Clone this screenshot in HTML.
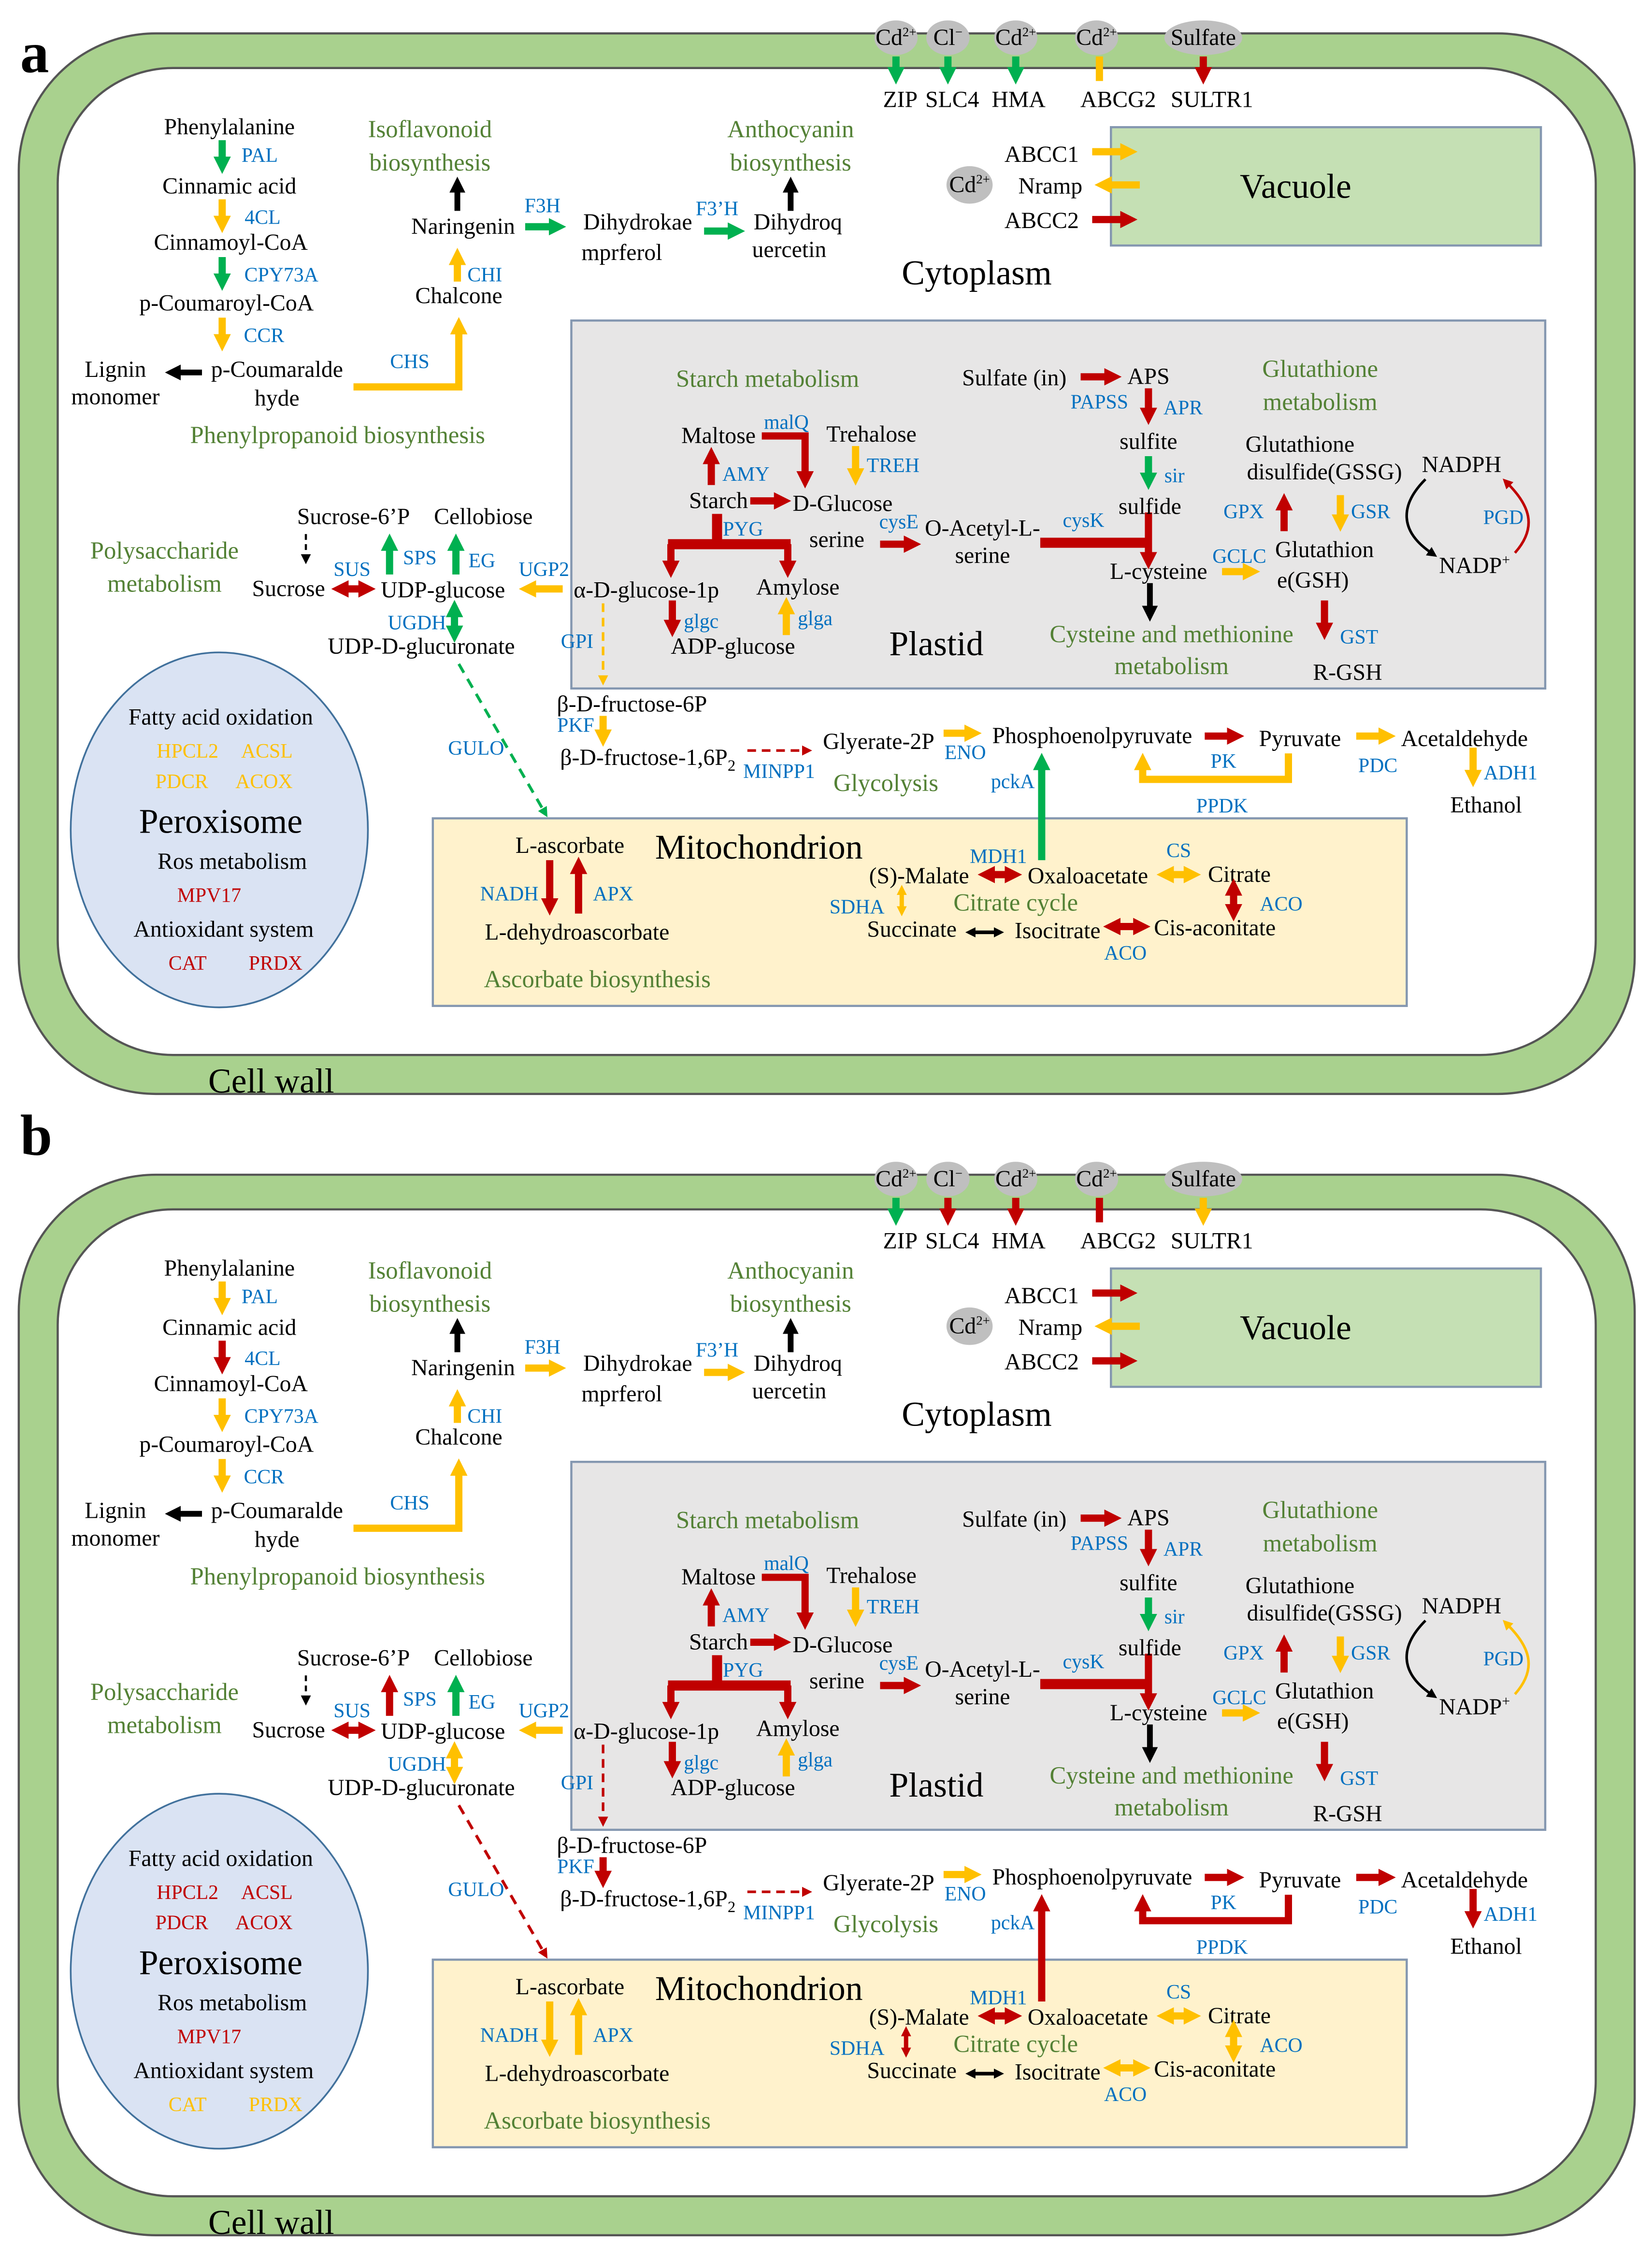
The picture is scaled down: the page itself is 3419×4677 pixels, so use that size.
<!DOCTYPE html>
<html><head><meta charset="utf-8">
<style>
html,body{margin:0;padding:0;background:#fff;}
svg{display:block;}
text{font-family:"Liberation Serif",serif;fill:#000;}
.t{font-size:16px;text-anchor:middle;}
.g{font-size:14px;fill:#0070c0;text-anchor:middle;}
.gn{font-size:17px;fill:#538135;text-anchor:middle;}
.L{font-size:24px;text-anchor:middle;}
.r{stroke:#c00000;stroke-width:5;fill:none;}
.y{stroke:#ffc000;stroke-width:5;fill:none;}
.n{stroke:#00b050;stroke-width:5;fill:none;}
.k{stroke:#000;stroke-width:4;fill:none;}
.gy{font-size:14px;fill:#ffc000;text-anchor:middle;}
.gr{font-size:14px;fill:#c00000;text-anchor:middle;}
</style></head><body>
<svg width="3419" height="4677" viewBox="0 0 1145 1566" xmlns="http://www.w3.org/2000/svg">
<defs>
<marker id="R" viewBox="0 0 10 10" refX="3" refY="5" markerWidth="12" markerHeight="12" markerUnits="userSpaceOnUse" orient="auto-start-reverse"><path d="M0,0L10,5L0,10z" fill="#c00000"/></marker>
<marker id="Y" viewBox="0 0 10 10" refX="3" refY="5" markerWidth="12" markerHeight="12" markerUnits="userSpaceOnUse" orient="auto-start-reverse"><path d="M0,0L10,5L0,10z" fill="#ffc000"/></marker>
<marker id="G" viewBox="0 0 10 10" refX="3" refY="5" markerWidth="12" markerHeight="12" markerUnits="userSpaceOnUse" orient="auto-start-reverse"><path d="M0,0L10,5L0,10z" fill="#00b050"/></marker>
<marker id="K" viewBox="0 0 10 10" refX="3" refY="5" markerWidth="11" markerHeight="11" markerUnits="userSpaceOnUse" orient="auto-start-reverse"><path d="M0,0L10,5L0,10z" fill="#000"/></marker>
<marker id="Rs" viewBox="0 0 10 10" refX="3" refY="5" markerWidth="7" markerHeight="7" markerUnits="userSpaceOnUse" orient="auto-start-reverse"><path d="M0,0L10,5L0,10z" fill="#c00000"/></marker>
<marker id="Ys" viewBox="0 0 10 10" refX="3" refY="5" markerWidth="7" markerHeight="7" markerUnits="userSpaceOnUse" orient="auto-start-reverse"><path d="M0,0L10,5L0,10z" fill="#ffc000"/></marker>
<marker id="Gs" viewBox="0 0 10 10" refX="3" refY="5" markerWidth="7" markerHeight="7" markerUnits="userSpaceOnUse" orient="auto-start-reverse"><path d="M0,0L10,5L0,10z" fill="#00b050"/></marker>
<marker id="Ks" viewBox="0 0 10 10" refX="3" refY="5" markerWidth="7" markerHeight="7" markerUnits="userSpaceOnUse" orient="auto-start-reverse"><path d="M0,0L10,5L0,10z" fill="#000"/></marker>
</defs>
<rect width="1145" height="1566" fill="#fff"/>

<!-- ================= PANEL A ================= -->
<g>
<rect x="13" y="23" width="1120" height="735" rx="95" fill="#a9d18e" stroke="#555" stroke-width="1.5"/>
<rect x="40" y="47" width="1066" height="684" rx="80" fill="#fff" stroke="#555" stroke-width="1.5"/>
<text x="14" y="50" font-size="40" font-weight="bold">a</text>
<text x="188" y="757" class="L">Cell wall</text>

<ellipse cx="621" cy="26" rx="15" ry="12" fill="#bfbfbf"/><text x="621" y="31" class="t" font-size="14">Cd<tspan font-size="9" dy="-6">2+</tspan></text>
<ellipse cx="657" cy="26" rx="15" ry="12" fill="#bfbfbf"/><text x="657" y="31" class="t" font-size="14">Cl<tspan font-size="9" dy="-6">−</tspan></text>
<ellipse cx="704" cy="26" rx="15" ry="12" fill="#bfbfbf"/><text x="704" y="31" class="t" font-size="14">Cd<tspan font-size="9" dy="-6">2+</tspan></text>
<ellipse cx="760" cy="26" rx="15" ry="12" fill="#bfbfbf"/><text x="760" y="31" class="t" font-size="14">Cd<tspan font-size="9" dy="-6">2+</tspan></text>
<ellipse cx="834" cy="26" rx="27" ry="12" fill="#bfbfbf"/><text x="834" y="31" class="t" font-size="15">Sulfate</text>
<line x1="621" y1="39" x2="621" y2="50" class="n" marker-end="url(#G)"/>
<line x1="657" y1="39" x2="657" y2="50" class="n" marker-end="url(#G)"/>
<line x1="704" y1="39" x2="704" y2="50" class="n" marker-end="url(#G)"/>
<line x1="762" y1="39" x2="762" y2="56" class="y"/>
<line x1="834" y1="39" x2="834" y2="50" class="r" marker-end="url(#R)"/>
<text x="624" y="74" class="t">ZIP</text><text x="660" y="74" class="t">SLC4</text><text x="706" y="74" class="t">HMA</text><text x="775" y="74" class="t">ABCG2</text><text x="840" y="74" class="t">SULTR1</text>

<rect x="770" y="88" width="298" height="82" fill="#c5e0b4" stroke="#8497b0" stroke-width="1.5"/>
<text x="898" y="137" class="L">Vacuole</text>
<text x="722" y="112" class="t">ABCC1</text><text x="728" y="134" class="t">Nramp</text><text x="722" y="158" class="t">ABCC2</text>
<line x1="757" y1="105" x2="780" y2="105" class="y" marker-end="url(#Y)"/>
<line x1="790" y1="128" x2="767" y2="128" class="y" marker-end="url(#Y)"/>
<line x1="757" y1="152" x2="780" y2="152" class="r" marker-end="url(#R)"/>
<ellipse cx="672" cy="128" rx="16" ry="13" fill="#bfbfbf"/><text x="672" y="133" class="t" font-size="14">Cd<tspan font-size="9" dy="-6">2+</tspan></text>
<text x="677" y="197" class="L">Cytoplasm</text>

<text x="159" y="93" class="t">Phenylalanine</text>
<line x1="154" y1="97" x2="154" y2="112" class="n" marker-end="url(#G)"/><text x="180" y="112" class="g">PAL</text>
<text x="159" y="134" class="t">Cinnamic acid</text>
<line x1="154" y1="138" x2="154" y2="153" class="y" marker-end="url(#Y)"/><text x="182" y="155" class="g">4CL</text>
<text x="160" y="173" class="t">Cinnamoyl-CoA</text>
<line x1="154" y1="178" x2="154" y2="193" class="n" marker-end="url(#G)"/><text x="195" y="195" class="g">CPY73A</text>
<text x="157" y="215" class="t">p-Coumaroyl-CoA</text>
<line x1="154" y1="220" x2="154" y2="235" class="y" marker-end="url(#Y)"/><text x="183" y="237" class="g">CCR</text>
<text x="192" y="261" class="t">p-Coumaralde</text><text x="192" y="281" class="t">hyde</text>
<text x="80" y="261" class="t">Lignin</text><text x="80" y="280" class="t">monomer</text>
<line x1="140" y1="258" x2="122" y2="258" class="k" marker-end="url(#K)"/>
<text x="284" y="255" class="g">CHS</text>
<path d="M245,268 H318 V228" class="y" marker-end="url(#Y)"/>
<text x="318" y="210" class="t">Chalcone</text>
<line x1="317" y1="195" x2="317" y2="180" class="y" marker-end="url(#Y)"/><text x="336" y="195" class="g">CHI</text>
<text x="321" y="162" class="t">Naringenin</text>
<line x1="317" y1="146" x2="317" y2="130" class="k" marker-end="url(#K)"/>
<text x="298" y="95" class="gn">Isoflavonoid</text><text x="298" y="118" class="gn">biosynthesis</text>
<text x="376" y="147" class="g">F3H</text>
<line x1="364" y1="157" x2="384" y2="157" class="n" marker-end="url(#G)"/>
<text x="442" y="159" class="t">Dihydrokae</text><text x="431" y="180" class="t">mprferol</text>
<text x="497" y="149" class="g">F3’H</text>
<line x1="488" y1="160" x2="508" y2="160" class="n" marker-end="url(#G)"/>
<text x="553" y="159" class="t">Dihydroq</text><text x="547" y="178" class="t">uercetin</text>
<line x1="548" y1="146" x2="548" y2="130" class="k" marker-end="url(#K)"/>
<text x="548" y="95" class="gn">Anthocyanin</text><text x="548" y="118" class="gn">biosynthesis</text>
<text x="234" y="307" class="gn">Phenylpropanoid biosynthesis</text>

<rect x="396" y="222" width="675" height="255" fill="#e7e6e6" stroke="#8497b0" stroke-width="1.5"/>
<rect x="300" y="567" width="675" height="130" fill="#fff2cc" stroke="#8497b0" stroke-width="1.5"/>
<ellipse cx="152" cy="575" rx="103" ry="123" fill="#dae3f3" stroke="#41719c" stroke-width="1.2"/>

<text x="114" y="387" class="gn">Polysaccharide</text><text x="114" y="410" class="gn">metabolism</text>
<text x="245" y="363" class="t">Sucrose-6’P</text><text x="335" y="363" class="t">Cellobiose</text>
<line x1="212" y1="370" x2="212" y2="386" stroke="#000" stroke-width="1.5" stroke-dasharray="4,3" marker-end="url(#Ks)"/>
<text x="200" y="413" class="t">Sucrose</text>
<line x1="238" y1="408" x2="252" y2="408" class="r" marker-start="url(#R)" marker-end="url(#R)"/>
<text x="244" y="399" class="g">SUS</text>
<text x="307" y="414" class="t">UDP-glucose</text>
<line x1="270" y1="398" x2="270" y2="378" class="n" marker-end="url(#G)"/><text x="291" y="391" class="g">SPS</text>
<line x1="316" y1="398" x2="316" y2="378" class="n" marker-end="url(#G)"/><text x="334" y="393" class="g">EG</text>
<text x="377" y="399" class="g">UGP2</text>
<line x1="390" y1="408" x2="368" y2="408" class="y" marker-end="url(#Y)"/>
<text x="448" y="414" class="t">α-D-glucose-1p</text>
<text x="289" y="436" class="g">UGDH</text>
<line x1="315" y1="424" x2="315" y2="437" class="n" marker-start="url(#G)" marker-end="url(#G)"/>
<text x="292" y="453" class="t">UDP-D-glucuronate</text>
<text x="400" y="449" class="g">GPI</text>
<line x1="418" y1="418" x2="418" y2="470" stroke="#ffc000" stroke-width="1.8" stroke-dasharray="6,4" marker-end="url(#Ys)"/>
<line x1="318" y1="460" x2="377" y2="562" stroke="#00b050" stroke-width="2" stroke-dasharray="7,5" marker-end="url(#Gs)"/>
<text x="330" y="523" class="g">GULO</text>
<text x="438" y="493" class="t">β-D-fructose-6P</text>
<text x="399" y="507" class="g">PKF</text>
<line x1="418" y1="496" x2="418" y2="509" class="y" marker-end="url(#Y)"/>
<text x="449" y="530" class="t">β-D-fructose-1,6P<tspan font-size="11" dy="4">2</tspan></text>
<line x1="518" y1="520" x2="558" y2="520" stroke="#c00000" stroke-width="1.8" stroke-dasharray="6,4" marker-end="url(#Rs)"/>
<text x="540" y="539" class="g">MINPP1</text>
<text x="609" y="519" class="t">Glyerate-2P</text>
<line x1="654" y1="508" x2="672" y2="508" class="y" marker-end="url(#Y)"/>
<text x="669" y="526" class="g">ENO</text>
<text x="757" y="515" class="t">Phosphoenolpyruvate</text>
<line x1="835" y1="510" x2="854" y2="510" class="r" marker-end="url(#R)"/>
<text x="848" y="532" class="g">PK</text>
<text x="901" y="517" class="t">Pyruvate</text>
<line x1="940" y1="510" x2="959" y2="510" class="y" marker-end="url(#Y)"/>
<text x="1015" y="517" class="t">Acetaldehyde</text>
<text x="955" y="535" class="g">PDC</text>
<line x1="1021" y1="518" x2="1021" y2="537" class="y" marker-end="url(#Y)"/>
<text x="1047" y="540" class="g">ADH1</text>
<text x="1030" y="563" class="t">Ethanol</text>
<path d="M893,522 V540 H792 V530" class="y" marker-end="url(#Y)"/>
<text x="847" y="563" class="g">PPDK</text>
<text x="614" y="548" class="gn">Glycolysis</text>
<text x="702" y="546" class="g">pckA</text>
<line x1="722" y1="596" x2="722" y2="530" class="n" marker-end="url(#G)"/>

<text x="532" y="268" class="gn">Starch metabolism</text>
<text x="498" y="307" class="t">Maltose</text><text x="545" y="297" class="g">malQ</text>
<text x="604" y="306" class="t">Trehalose</text>
<path d="M528,302 H558 V330" class="r" marker-end="url(#R)"/>
<line x1="593" y1="309" x2="593" y2="328" class="y" marker-end="url(#Y)"/><text x="619" y="327" class="g">TREH</text>
<line x1="493" y1="336" x2="493" y2="318" class="r" marker-end="url(#R)"/><text x="517" y="333" class="g">AMY</text>
<text x="498" y="352" class="t">Starch</text>
<line x1="520" y1="347" x2="540" y2="347" class="r" marker-end="url(#R)"/>
<text x="584" y="354" class="t">D-Glucose</text>
<text x="515" y="371" class="g">PYG</text>
<path d="M497,356 V377 M463,377 H548" stroke="#c00000" stroke-width="7" fill="none"/>
<line x1="465" y1="377" x2="465" y2="392" class="r" marker-end="url(#R)"/>
<line x1="546" y1="377" x2="546" y2="392" class="r" marker-end="url(#R)"/>
<text x="553" y="412" class="t">Amylose</text>
<line x1="466" y1="416" x2="466" y2="433" class="r" marker-end="url(#R)"/><text x="486" y="435" class="g">glgc</text>
<line x1="545" y1="440" x2="545" y2="422" class="y" marker-end="url(#Y)"/><text x="565" y="433" class="g">glga</text>
<text x="508" y="453" class="t">ADP-glucose</text>
<text x="580" y="379" class="t">serine</text>
<text x="623" y="366" class="g">cysE</text>
<line x1="610" y1="377" x2="630" y2="377" class="r" marker-end="url(#R)"/>
<text x="681" y="371" class="t">O-Acetyl-L-</text><text x="681" y="390" class="t">serine</text>
<text x="751" y="365" class="g">cysK</text>
<path d="M721,376 H795" stroke="#c00000" stroke-width="7" fill="none"/>
<line x1="796" y1="355" x2="796" y2="386" class="r" marker-end="url(#R)"/>
<text x="703" y="267" class="t">Sulfate (in)</text>
<line x1="749" y1="261" x2="769" y2="261" class="r" marker-end="url(#R)"/>
<text x="796" y="266" class="t">APS</text>
<text x="762" y="283" class="g">PAPSS</text>
<line x1="796" y1="269" x2="796" y2="286" class="r" marker-end="url(#R)"/><text x="820" y="287" class="g">APR</text>
<text x="796" y="311" class="t">sulfite</text>
<line x1="796" y1="316" x2="796" y2="331" class="n" marker-end="url(#G)"/><text x="814" y="334" class="g">sir</text>
<text x="797" y="356" class="t">sulfide</text>
<text x="803" y="401" class="t">L-cysteine</text>
<line x1="797" y1="404" x2="797" y2="423" class="k" marker-end="url(#K)"/>
<line x1="847" y1="396" x2="865" y2="396" class="y" marker-end="url(#Y)"/><text x="859" y="390" class="g">GCLC</text>
<text x="918" y="386" class="t">Glutathion</text><text x="910" y="407" class="t">e(GSH)</text>
<text x="862" y="359" class="g">GPX</text>
<line x1="890" y1="368" x2="890" y2="350" class="r" marker-end="url(#R)"/>
<line x1="929" y1="343" x2="929" y2="360" class="y" marker-end="url(#Y)"/><text x="950" y="359" class="g">GSR</text>
<text x="901" y="313" class="t">Glutathione</text><text x="918" y="332" class="t">disulfide(GSSG)</text>
<text x="1013" y="327" class="t">NADPH</text>
<text x="1022" y="397" class="t">NADP<tspan font-size="10" dy="-6">+</tspan></text>
<path d="M988,332 C970,350 970,368 992,383" stroke="#000" stroke-width="1.8" fill="none" marker-end="url(#Ks)"/>
<path d="M1050,383 C1066,365 1060,350 1045,335" stroke="#c00000" stroke-width="1.8" fill="none" marker-end="url(#Rs)"/>
<text x="1042" y="363" class="g">PGD</text>
<text x="915" y="261" class="gn">Glutathione</text><text x="915" y="284" class="gn">metabolism</text>
<line x1="918" y1="416" x2="918" y2="435" class="r" marker-end="url(#R)"/><text x="942" y="446" class="g">GST</text>
<text x="934" y="471" class="t">R-GSH</text>
<text x="812" y="445" class="gn">Cysteine and methionine</text><text x="812" y="467" class="gn">metabolism</text>
<text x="649" y="454" class="L">Plastid</text>

<text x="526" y="595" class="L">Mitochondrion</text>
<text x="395" y="591" class="t">L-ascorbate</text>
<text x="353" y="624" class="g">NADH</text>
<line x1="381" y1="596" x2="381" y2="626" class="r" marker-end="url(#R)"/>
<line x1="401" y1="633" x2="401" y2="602" class="r" marker-end="url(#R)"/>
<text x="425" y="624" class="g">APX</text>
<text x="400" y="651" class="t">L-dehydroascorbate</text>
<text x="414" y="684" class="gn">Ascorbate biosynthesis</text>
<text x="637" y="612" class="t">(S)-Malate</text>
<line x1="686" y1="606" x2="700" y2="606" class="r" marker-start="url(#R)" marker-end="url(#R)"/>
<text x="692" y="598" class="g">MDH1</text>
<text x="754" y="612" class="t">Oxaloacetate</text>
<line x1="810" y1="606" x2="824" y2="606" class="y" marker-start="url(#Y)" marker-end="url(#Y)"/>
<text x="817" y="594" class="g">CS</text>
<text x="859" y="611" class="t">Citrate</text>
<line x1="855" y1="617" x2="855" y2="630" class="r" marker-start="url(#R)" marker-end="url(#R)"/>
<text x="888" y="631" class="g">ACO</text>
<text x="594" y="633" class="g">SDHA</text>
<line x1="625" y1="618" x2="625" y2="630" stroke="#ffc000" stroke-width="3" marker-start="url(#Ys)" marker-end="url(#Ys)"/>
<text x="704" y="631" class="gn">Citrate cycle</text>
<text x="632" y="649" class="t">Succinate</text>
<line x1="674" y1="646" x2="691" y2="646" stroke="#000" stroke-width="2.5" marker-start="url(#Ks)" marker-end="url(#Ks)"/>
<text x="733" y="650" class="t">Isocitrate</text>
<line x1="773" y1="642" x2="789" y2="642" class="r" marker-start="url(#R)" marker-end="url(#R)"/>
<text x="842" y="648" class="t">Cis-aconitate</text>
<text x="780" y="665" class="g">ACO</text>

<text x="153" y="502" class="t">Fatty acid oxidation</text>
<text x="130" y="525" class="gy">HPCL2</text><text x="185" y="525" class="gy">ACSL</text>
<text x="126" y="546" class="gy">PDCR</text><text x="183" y="546" class="gy">ACOX</text>
<text x="153" y="577" class="L">Peroxisome</text>
<text x="161" y="602" class="t">Ros metabolism</text>
<text x="145" y="625" class="gr">MPV17</text>
<text x="155" y="649" class="t">Antioxidant system</text>
<text x="130" y="672" class="gr">CAT</text><text x="191" y="672" class="gr">PRDX</text>
</g>

<!-- ================= PANEL B ================= -->
<g transform="translate(0,791)">
<rect x="13" y="23" width="1120" height="735" rx="95" fill="#a9d18e" stroke="#555" stroke-width="1.5"/>
<rect x="40" y="47" width="1066" height="684" rx="80" fill="#fff" stroke="#555" stroke-width="1.5"/>
<text x="14" y="9" font-size="40" font-weight="bold">b</text>
<text x="188" y="757" class="L">Cell wall</text>

<ellipse cx="621" cy="26" rx="15" ry="12" fill="#bfbfbf"/><text x="621" y="31" class="t" font-size="14">Cd<tspan font-size="9" dy="-6">2+</tspan></text>
<ellipse cx="657" cy="26" rx="15" ry="12" fill="#bfbfbf"/><text x="657" y="31" class="t" font-size="14">Cl<tspan font-size="9" dy="-6">−</tspan></text>
<ellipse cx="704" cy="26" rx="15" ry="12" fill="#bfbfbf"/><text x="704" y="31" class="t" font-size="14">Cd<tspan font-size="9" dy="-6">2+</tspan></text>
<ellipse cx="760" cy="26" rx="15" ry="12" fill="#bfbfbf"/><text x="760" y="31" class="t" font-size="14">Cd<tspan font-size="9" dy="-6">2+</tspan></text>
<ellipse cx="834" cy="26" rx="27" ry="12" fill="#bfbfbf"/><text x="834" y="31" class="t" font-size="15">Sulfate</text>
<line x1="621" y1="39" x2="621" y2="50" class="n" marker-end="url(#G)"/>
<line x1="657" y1="39" x2="657" y2="50" class="r" marker-end="url(#R)"/>
<line x1="704" y1="39" x2="704" y2="50" class="r" marker-end="url(#R)"/>
<line x1="762" y1="39" x2="762" y2="56" class="r"/>
<line x1="834" y1="39" x2="834" y2="50" class="y" marker-end="url(#Y)"/>
<text x="624" y="74" class="t">ZIP</text><text x="660" y="74" class="t">SLC4</text><text x="706" y="74" class="t">HMA</text><text x="775" y="74" class="t">ABCG2</text><text x="840" y="74" class="t">SULTR1</text>

<rect x="770" y="88" width="298" height="82" fill="#c5e0b4" stroke="#8497b0" stroke-width="1.5"/>
<text x="898" y="137" class="L">Vacuole</text>
<text x="722" y="112" class="t">ABCC1</text><text x="728" y="134" class="t">Nramp</text><text x="722" y="158" class="t">ABCC2</text>
<line x1="757" y1="105" x2="780" y2="105" class="r" marker-end="url(#R)"/>
<line x1="790" y1="128" x2="767" y2="128" class="y" marker-end="url(#Y)"/>
<line x1="757" y1="152" x2="780" y2="152" class="r" marker-end="url(#R)"/>
<ellipse cx="672" cy="128" rx="16" ry="13" fill="#bfbfbf"/><text x="672" y="133" class="t" font-size="14">Cd<tspan font-size="9" dy="-6">2+</tspan></text>
<text x="677" y="197" class="L">Cytoplasm</text>

<text x="159" y="93" class="t">Phenylalanine</text>
<line x1="154" y1="97" x2="154" y2="112" class="y" marker-end="url(#Y)"/><text x="180" y="112" class="g">PAL</text>
<text x="159" y="134" class="t">Cinnamic acid</text>
<line x1="154" y1="138" x2="154" y2="153" class="r" marker-end="url(#R)"/><text x="182" y="155" class="g">4CL</text>
<text x="160" y="173" class="t">Cinnamoyl-CoA</text>
<line x1="154" y1="178" x2="154" y2="193" class="y" marker-end="url(#Y)"/><text x="195" y="195" class="g">CPY73A</text>
<text x="157" y="215" class="t">p-Coumaroyl-CoA</text>
<line x1="154" y1="220" x2="154" y2="235" class="y" marker-end="url(#Y)"/><text x="183" y="237" class="g">CCR</text>
<text x="192" y="261" class="t">p-Coumaralde</text><text x="192" y="281" class="t">hyde</text>
<text x="80" y="261" class="t">Lignin</text><text x="80" y="280" class="t">monomer</text>
<line x1="140" y1="258" x2="122" y2="258" class="k" marker-end="url(#K)"/>
<text x="284" y="255" class="g">CHS</text>
<path d="M245,268 H318 V228" class="y" marker-end="url(#Y)"/>
<text x="318" y="210" class="t">Chalcone</text>
<line x1="317" y1="195" x2="317" y2="180" class="y" marker-end="url(#Y)"/><text x="336" y="195" class="g">CHI</text>
<text x="321" y="162" class="t">Naringenin</text>
<line x1="317" y1="146" x2="317" y2="130" class="k" marker-end="url(#K)"/>
<text x="298" y="95" class="gn">Isoflavonoid</text><text x="298" y="118" class="gn">biosynthesis</text>
<text x="376" y="147" class="g">F3H</text>
<line x1="364" y1="157" x2="384" y2="157" class="y" marker-end="url(#Y)"/>
<text x="442" y="159" class="t">Dihydrokae</text><text x="431" y="180" class="t">mprferol</text>
<text x="497" y="149" class="g">F3’H</text>
<line x1="488" y1="160" x2="508" y2="160" class="y" marker-end="url(#Y)"/>
<text x="553" y="159" class="t">Dihydroq</text><text x="547" y="178" class="t">uercetin</text>
<line x1="548" y1="146" x2="548" y2="130" class="k" marker-end="url(#K)"/>
<text x="548" y="95" class="gn">Anthocyanin</text><text x="548" y="118" class="gn">biosynthesis</text>
<text x="234" y="307" class="gn">Phenylpropanoid biosynthesis</text>

<rect x="396" y="222" width="675" height="255" fill="#e7e6e6" stroke="#8497b0" stroke-width="1.5"/>
<rect x="300" y="567" width="675" height="130" fill="#fff2cc" stroke="#8497b0" stroke-width="1.5"/>
<ellipse cx="152" cy="575" rx="103" ry="123" fill="#dae3f3" stroke="#41719c" stroke-width="1.2"/>

<text x="114" y="387" class="gn">Polysaccharide</text><text x="114" y="410" class="gn">metabolism</text>
<text x="245" y="363" class="t">Sucrose-6’P</text><text x="335" y="363" class="t">Cellobiose</text>
<line x1="212" y1="370" x2="212" y2="386" stroke="#000" stroke-width="1.5" stroke-dasharray="4,3" marker-end="url(#Ks)"/>
<text x="200" y="413" class="t">Sucrose</text>
<line x1="238" y1="408" x2="252" y2="408" class="r" marker-start="url(#R)" marker-end="url(#R)"/>
<text x="244" y="399" class="g">SUS</text>
<text x="307" y="414" class="t">UDP-glucose</text>
<line x1="270" y1="398" x2="270" y2="378" class="r" marker-end="url(#R)"/><text x="291" y="391" class="g">SPS</text>
<line x1="316" y1="398" x2="316" y2="378" class="n" marker-end="url(#G)"/><text x="334" y="393" class="g">EG</text>
<text x="377" y="399" class="g">UGP2</text>
<line x1="390" y1="408" x2="368" y2="408" class="y" marker-end="url(#Y)"/>
<text x="448" y="414" class="t">α-D-glucose-1p</text>
<text x="289" y="436" class="g">UGDH</text>
<line x1="315" y1="424" x2="315" y2="437" class="y" marker-start="url(#Y)" marker-end="url(#Y)"/>
<text x="292" y="453" class="t">UDP-D-glucuronate</text>
<text x="400" y="449" class="g">GPI</text>
<line x1="418" y1="418" x2="418" y2="470" stroke="#c00000" stroke-width="1.8" stroke-dasharray="6,4" marker-end="url(#Rs)"/>
<line x1="318" y1="460" x2="377" y2="562" stroke="#c00000" stroke-width="2" stroke-dasharray="7,5" marker-end="url(#Rs)"/>
<text x="330" y="523" class="g">GULO</text>
<text x="438" y="493" class="t">β-D-fructose-6P</text>
<text x="399" y="507" class="g">PKF</text>
<line x1="418" y1="496" x2="418" y2="509" class="r" marker-end="url(#R)"/>
<text x="449" y="530" class="t">β-D-fructose-1,6P<tspan font-size="11" dy="4">2</tspan></text>
<line x1="518" y1="520" x2="558" y2="520" stroke="#c00000" stroke-width="1.8" stroke-dasharray="6,4" marker-end="url(#Rs)"/>
<text x="540" y="539" class="g">MINPP1</text>
<text x="609" y="519" class="t">Glyerate-2P</text>
<line x1="654" y1="508" x2="672" y2="508" class="y" marker-end="url(#Y)"/>
<text x="669" y="526" class="g">ENO</text>
<text x="757" y="515" class="t">Phosphoenolpyruvate</text>
<line x1="835" y1="510" x2="854" y2="510" class="r" marker-end="url(#R)"/>
<text x="848" y="532" class="g">PK</text>
<text x="901" y="517" class="t">Pyruvate</text>
<line x1="940" y1="510" x2="959" y2="510" class="r" marker-end="url(#R)"/>
<text x="1015" y="517" class="t">Acetaldehyde</text>
<text x="955" y="535" class="g">PDC</text>
<line x1="1021" y1="518" x2="1021" y2="537" class="r" marker-end="url(#R)"/>
<text x="1047" y="540" class="g">ADH1</text>
<text x="1030" y="563" class="t">Ethanol</text>
<path d="M893,522 V540 H792 V530" class="r" marker-end="url(#R)"/>
<text x="847" y="563" class="g">PPDK</text>
<text x="614" y="548" class="gn">Glycolysis</text>
<text x="702" y="546" class="g">pckA</text>
<line x1="722" y1="596" x2="722" y2="530" class="r" marker-end="url(#R)"/>

<text x="532" y="268" class="gn">Starch metabolism</text>
<text x="498" y="307" class="t">Maltose</text><text x="545" y="297" class="g">malQ</text>
<text x="604" y="306" class="t">Trehalose</text>
<path d="M528,302 H558 V330" class="r" marker-end="url(#R)"/>
<line x1="593" y1="309" x2="593" y2="328" class="y" marker-end="url(#Y)"/><text x="619" y="327" class="g">TREH</text>
<line x1="493" y1="336" x2="493" y2="318" class="r" marker-end="url(#R)"/><text x="517" y="333" class="g">AMY</text>
<text x="498" y="352" class="t">Starch</text>
<line x1="520" y1="347" x2="540" y2="347" class="r" marker-end="url(#R)"/>
<text x="584" y="354" class="t">D-Glucose</text>
<text x="515" y="371" class="g">PYG</text>
<path d="M497,356 V377 M463,377 H548" stroke="#c00000" stroke-width="7" fill="none"/>
<line x1="465" y1="377" x2="465" y2="392" class="r" marker-end="url(#R)"/>
<line x1="546" y1="377" x2="546" y2="392" class="r" marker-end="url(#R)"/>
<text x="553" y="412" class="t">Amylose</text>
<line x1="466" y1="416" x2="466" y2="433" class="r" marker-end="url(#R)"/><text x="486" y="435" class="g">glgc</text>
<line x1="545" y1="440" x2="545" y2="422" class="y" marker-end="url(#Y)"/><text x="565" y="433" class="g">glga</text>
<text x="508" y="453" class="t">ADP-glucose</text>
<text x="580" y="379" class="t">serine</text>
<text x="623" y="366" class="g">cysE</text>
<line x1="610" y1="377" x2="630" y2="377" class="r" marker-end="url(#R)"/>
<text x="681" y="371" class="t">O-Acetyl-L-</text><text x="681" y="390" class="t">serine</text>
<text x="751" y="365" class="g">cysK</text>
<path d="M721,376 H795" stroke="#c00000" stroke-width="7" fill="none"/>
<line x1="796" y1="355" x2="796" y2="386" class="r" marker-end="url(#R)"/>
<text x="703" y="267" class="t">Sulfate (in)</text>
<line x1="749" y1="261" x2="769" y2="261" class="r" marker-end="url(#R)"/>
<text x="796" y="266" class="t">APS</text>
<text x="762" y="283" class="g">PAPSS</text>
<line x1="796" y1="269" x2="796" y2="286" class="r" marker-end="url(#R)"/><text x="820" y="287" class="g">APR</text>
<text x="796" y="311" class="t">sulfite</text>
<line x1="796" y1="316" x2="796" y2="331" class="n" marker-end="url(#G)"/><text x="814" y="334" class="g">sir</text>
<text x="797" y="356" class="t">sulfide</text>
<text x="803" y="401" class="t">L-cysteine</text>
<line x1="797" y1="404" x2="797" y2="423" class="k" marker-end="url(#K)"/>
<line x1="847" y1="396" x2="865" y2="396" class="y" marker-end="url(#Y)"/><text x="859" y="390" class="g">GCLC</text>
<text x="918" y="386" class="t">Glutathion</text><text x="910" y="407" class="t">e(GSH)</text>
<text x="862" y="359" class="g">GPX</text>
<line x1="890" y1="368" x2="890" y2="350" class="r" marker-end="url(#R)"/>
<line x1="929" y1="343" x2="929" y2="360" class="y" marker-end="url(#Y)"/><text x="950" y="359" class="g">GSR</text>
<text x="901" y="313" class="t">Glutathione</text><text x="918" y="332" class="t">disulfide(GSSG)</text>
<text x="1013" y="327" class="t">NADPH</text>
<text x="1022" y="397" class="t">NADP<tspan font-size="10" dy="-6">+</tspan></text>
<path d="M988,332 C970,350 970,368 992,383" stroke="#000" stroke-width="1.8" fill="none" marker-end="url(#Ks)"/>
<path d="M1050,383 C1066,365 1060,350 1045,335" stroke="#ffc000" stroke-width="1.8" fill="none" marker-end="url(#Ys)"/>
<text x="1042" y="363" class="g">PGD</text>
<text x="915" y="261" class="gn">Glutathione</text><text x="915" y="284" class="gn">metabolism</text>
<line x1="918" y1="416" x2="918" y2="435" class="r" marker-end="url(#R)"/><text x="942" y="446" class="g">GST</text>
<text x="934" y="471" class="t">R-GSH</text>
<text x="812" y="445" class="gn">Cysteine and methionine</text><text x="812" y="467" class="gn">metabolism</text>
<text x="649" y="454" class="L">Plastid</text>

<text x="526" y="595" class="L">Mitochondrion</text>
<text x="395" y="591" class="t">L-ascorbate</text>
<text x="353" y="624" class="g">NADH</text>
<line x1="381" y1="596" x2="381" y2="626" class="y" marker-end="url(#Y)"/>
<line x1="401" y1="633" x2="401" y2="602" class="y" marker-end="url(#Y)"/>
<text x="425" y="624" class="g">APX</text>
<text x="400" y="651" class="t">L-dehydroascorbate</text>
<text x="414" y="684" class="gn">Ascorbate biosynthesis</text>
<text x="637" y="612" class="t">(S)-Malate</text>
<line x1="686" y1="606" x2="700" y2="606" class="r" marker-start="url(#R)" marker-end="url(#R)"/>
<text x="692" y="598" class="g">MDH1</text>
<text x="754" y="612" class="t">Oxaloacetate</text>
<line x1="810" y1="606" x2="824" y2="606" class="y" marker-start="url(#Y)" marker-end="url(#Y)"/>
<text x="817" y="594" class="g">CS</text>
<text x="859" y="611" class="t">Citrate</text>
<line x1="855" y1="617" x2="855" y2="630" class="y" marker-start="url(#Y)" marker-end="url(#Y)"/>
<text x="888" y="631" class="g">ACO</text>
<text x="594" y="633" class="g">SDHA</text>
<line x1="628" y1="618" x2="628" y2="630" stroke="#c00000" stroke-width="3" marker-start="url(#Rs)" marker-end="url(#Rs)"/>
<text x="704" y="631" class="gn">Citrate cycle</text>
<text x="632" y="649" class="t">Succinate</text>
<line x1="674" y1="646" x2="691" y2="646" stroke="#000" stroke-width="2.5" marker-start="url(#Ks)" marker-end="url(#Ks)"/>
<text x="733" y="650" class="t">Isocitrate</text>
<line x1="773" y1="642" x2="789" y2="642" class="y" marker-start="url(#Y)" marker-end="url(#Y)"/>
<text x="842" y="648" class="t">Cis-aconitate</text>
<text x="780" y="665" class="g">ACO</text>

<text x="153" y="502" class="t">Fatty acid oxidation</text>
<text x="130" y="525" class="gr">HPCL2</text><text x="185" y="525" class="gr">ACSL</text>
<text x="126" y="546" class="gr">PDCR</text><text x="183" y="546" class="gr">ACOX</text>
<text x="153" y="577" class="L">Peroxisome</text>
<text x="161" y="602" class="t">Ros metabolism</text>
<text x="145" y="625" class="gr">MPV17</text>
<text x="155" y="649" class="t">Antioxidant system</text>
<text x="130" y="672" class="gy">CAT</text><text x="191" y="672" class="gy">PRDX</text>
</g>
</svg>
</body></html>
